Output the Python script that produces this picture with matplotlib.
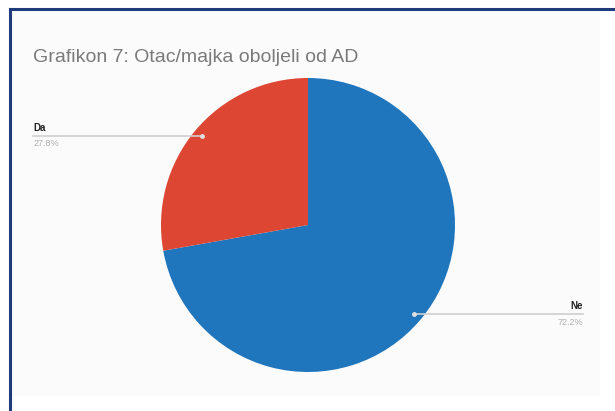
import numpy as np
import matplotlib
matplotlib.use("Agg")
import matplotlib.pyplot as plt
from matplotlib.lines import Line2D

title = "Grafikon 7: Otac/majka oboljeli od AD"
categories = ["Ne", "Da"]
values = [72.2, 27.8]
colors = ["#1f76bd", "#dc4632"]

plt.rcParams['font.family'] = ['Liberation Sans', 'DejaVu Sans']

W, H = 615, 411
fig = plt.figure(figsize=(W / 100, H / 100), dpi=100)
fig.patch.set_facecolor("white")

# inner panel + border
bg = fig.add_axes([12 / W, 1 - 396 / H, (600 - 12) / W, (396 - 12) / H], zorder=-5)
bg.set_facecolor("#fbfbfb")
bg.set_xticks([])
bg.set_yticks([])
for s in bg.spines.values():
    s.set_visible(False)
fig.add_artist(Line2D([9.5 / W, 1], [1 - 9.5 / H, 1 - 9.5 / H], color="#1d3b7d", lw=2.2))
fig.add_artist(Line2D([9.5 / W, 9.5 / W], [0, 1 - 9.5 / H], color="#1d3b7d", lw=2.2))

fig.text(33 / W, 1 - 57 / H, title, fontsize=14, color="#7a7a7a", va="center", ha="left")

cx, cy, r = 308, 225, 147
ax = fig.add_axes([(cx - r) / W, (H - cy - r) / H, 2 * r / W, 2 * r / H], zorder=2)
ax.set_facecolor("none")
wedges, _ = ax.pie(values, colors=colors, startangle=90, counterclock=False, radius=1,
                   wedgeprops=dict(linewidth=0))
ax.set_xlim(-1, 1)
ax.set_ylim(-1, 1)
ax.set_aspect("auto")
ax.axis("off")

for w, cat, val in zip(wedges, categories, values):
    mid = np.deg2rad((w.theta1 + w.theta2) / 2)
    px, py = 0.945 * np.cos(mid), 0.945 * np.sin(mid)
    side = 1 if px > 0 else -1
    tx = side * 1.87
    ax.plot([px, tx], [py, py], color="#cfcfcf", lw=1.2, clip_on=False, zorder=3)
    ax.plot([px], [py], "o", color="#e0e0e0", ms=2.5, clip_on=False, zorder=4)
    ha = "right" if side > 0 else "left"
    ax.text(tx, py + 0.055, cat, fontsize=7, fontweight="bold", color="#222222",
            ha=ha, va="center", clip_on=False)
    ax.text(tx, py - 0.055, f"{val:.1f}%", fontsize=6.5, color="#b0b0b0",
            ha=ha, va="center", clip_on=False)

fig.savefig("out.png", dpi=100)
